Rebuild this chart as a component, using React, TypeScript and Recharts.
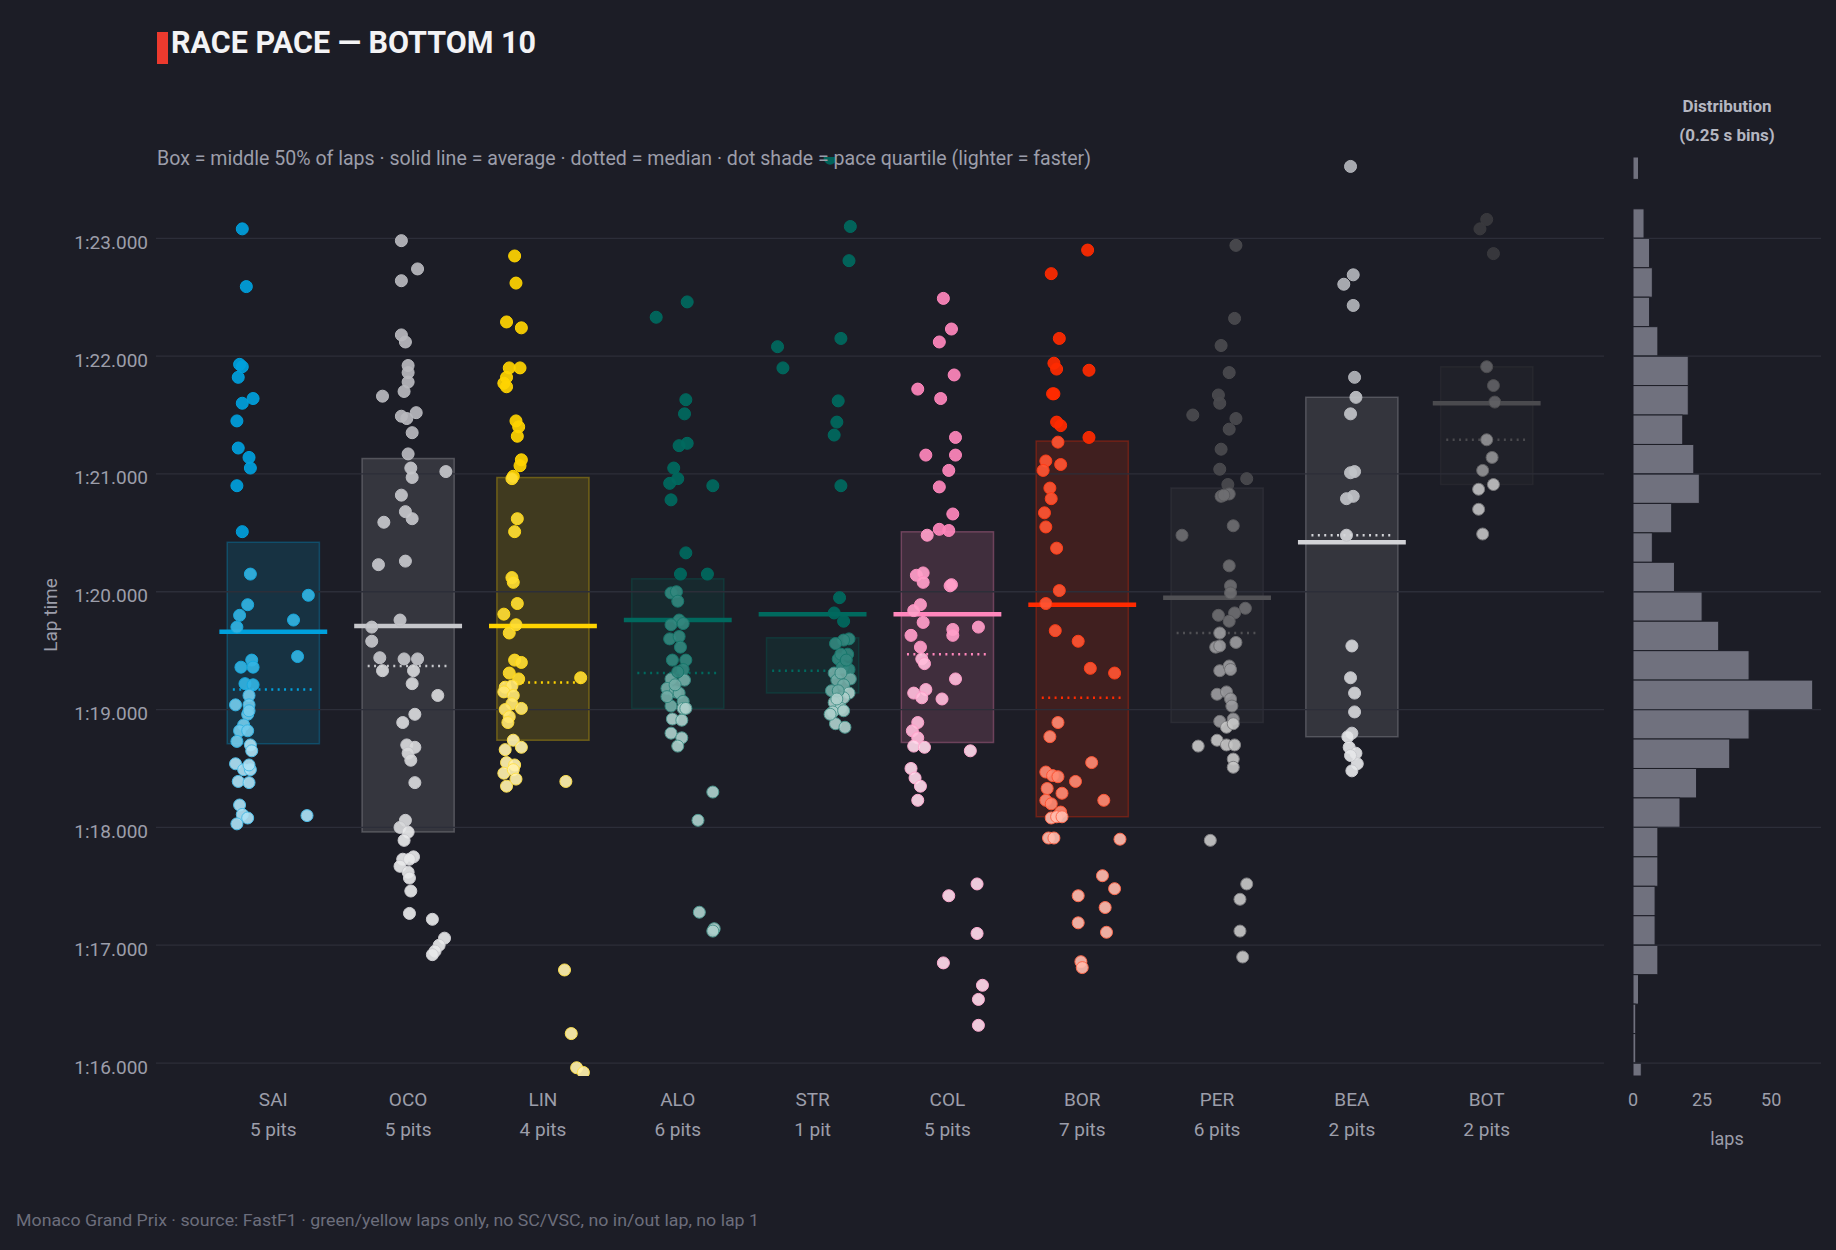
import { ComposedChart, Scatter, XAxis, YAxis, ReferenceArea, ReferenceLine } from "recharts";

const DRIVERS = ["SAI", "OCO", "LIN", "ALO", "STR", "COL", "BOR", "PER", "BEA", "BOT"];
const PITS = ["5 pits", "5 pits", "4 pits", "6 pits", "1 pit", "5 pits", "7 pits", "6 pits", "2 pits", "2 pits"];
const Y_TICKS = [76, 77, 78, 79, 80, 81, 82, 83];
const Y_DOMAIN: [number, number] = [75.89, 83.69];

// lap times in seconds (jitter = horizontal spread inside the column)
const SAI_LAPS = [83.08, 82.59, 81.93, 81.91, 81.82, 81.6, 81.64, 81.45, 81.22, 81.14, 81.05, 80.9, 80.51, 80.15, 79.89, 79.97, 79.8, 79.7, 79.76, 79.45, 79.42, 79.36, 79.36, 79.22, 79.21, 79.12, 79.04, 79.04, 78.96, 78.99, 78.87, 78.82, 78.82, 78.73, 78.7, 78.65, 78.54, 78.49, 78.49, 78.53, 78.39, 78.38, 78.19, 78.11, 78.08, 78.03, 78.1];
const SAI_JITTER = [-0.23, -0.2, -0.25, -0.23, -0.26, -0.23, -0.15, -0.27, -0.26, -0.18, -0.17, -0.27, -0.23, -0.17, -0.19, 0.26, -0.25, -0.27, 0.15, 0.18, -0.16, -0.24, -0.15, -0.21, -0.15, -0.18, -0.18, -0.28, -0.19, -0.18, -0.22, -0.25, -0.19, -0.27, -0.17, -0.16, -0.28, -0.22, -0.17, -0.18, -0.26, -0.18, -0.25, -0.23, -0.19, -0.27, 0.25];

const OCO_LAPS = [82.98, 82.74, 82.64, 82.18, 82.12, 81.92, 81.86, 81.78, 81.7, 81.66, 81.49, 81.47, 81.52, 81.35, 81.17, 81.05, 80.97, 81.02, 80.82, 80.68, 80.62, 80.59, 80.23, 80.26, 79.76, 79.7, 79.58, 79.44, 79.33, 79.43, 79.43, 79.33, 79.22, 79.12, 78.96, 78.89, 78.7, 78.68, 78.63, 78.57, 78.38, 78.06, 78.0, 77.96, 77.89, 77.73, 77.75, 77.73, 77.67, 77.62, 77.57, 77.46, 77.27, 77.22, 77.06, 77.0, 76.95, 76.92];
const OCO_JITTER = [-0.05, 0.07, -0.05, -0.05, -0.02, 0, 0, 0, -0.03, -0.19, -0.05, -0.01, 0.06, 0.03, 0, 0.02, 0.03, 0.28, -0.05, -0.02, 0.03, -0.18, -0.22, -0.02, -0.06, -0.27, -0.27, -0.21, -0.19, -0.03, 0.07, 0.04, 0.03, 0.22, 0.05, -0.04, -0.01, 0.05, 0, 0.02, 0.05, -0.02, -0.06, 0, -0.03, -0.04, 0.04, 0.01, -0.06, 0, 0.01, 0.02, 0.01, 0.18, 0.27, 0.23, 0.2, 0.18];

const LIN_LAPS = [82.85, 82.62, 82.29, 82.24, 81.9, 81.9, 81.82, 81.77, 81.74, 81.45, 81.4, 81.32, 81.12, 81.07, 80.98, 80.96, 80.62, 80.51, 80.12, 80.08, 79.9, 79.81, 79.72, 79.65, 79.42, 79.4, 79.27, 79.31, 79.26, 79.19, 79.2, 79.15, 79.12, 79.05, 79.0, 79.01, 78.94, 78.89, 78.74, 78.68, 78.66, 78.55, 78.53, 78.46, 78.49, 78.41, 78.35, 78.39, 76.79, 76.25, 75.96, 75.92];
const LIN_JITTER = [-0.21, -0.2, -0.27, -0.16, -0.25, -0.17, -0.27, -0.29, -0.27, -0.2, -0.18, -0.19, -0.16, -0.17, -0.22, -0.23, -0.19, -0.21, -0.23, -0.22, -0.19, -0.29, -0.2, -0.25, -0.21, -0.16, 0.28, -0.25, -0.18, -0.28, -0.23, -0.29, -0.22, -0.23, -0.28, -0.16, -0.25, -0.26, -0.22, -0.16, -0.28, -0.27, -0.21, -0.29, -0.22, -0.2, -0.27, 0.17, 0.16, 0.21, 0.25, 0.3];

const ALO_LAPS = [82.46, 82.33, 81.63, 81.51, 81.24, 81.26, 81.05, 80.96, 80.92, 80.9, 80.78, 80.33, 80.15, 80.15, 79.99, 80.0, 79.92, 79.76, 79.72, 79.73, 79.6, 79.62, 79.53, 79.42, 79.42, 79.34, 79.26, 79.25, 79.18, 79.15, 79.14, 79.07, 79.03, 79.01, 79.01, 78.92, 78.91, 78.8, 78.76, 78.69, 78.3, 78.06, 77.28, 77.14, 77.12, 79.21, 79.32, 79.11];
const ALO_JITTER = [0.07, -0.16, 0.06, 0.05, 0.01, 0.07, -0.03, 0, -0.06, 0.26, -0.05, 0.06, 0.02, 0.22, -0.05, -0.01, 0, 0.01, -0.05, 0.04, -0.06, 0.01, 0.02, -0.04, 0.06, 0.04, -0.05, 0.05, -0.08, -0.02, 0.01, 0.04, -0.05, 0.04, 0.06, -0.04, 0.03, -0.05, 0.03, 0, 0.26, 0.15, 0.16, 0.27, 0.26, -0.02, 0, -0.08];

const STR_LAPS = [83.68, 83.1, 82.81, 82.08, 81.9, 82.15, 81.62, 81.44, 81.33, 80.9, 79.95, 79.82, 79.75, 79.6, 79.59, 79.56, 79.47, 79.43, 79.36, 79.34, 79.31, 79.25, 79.26, 79.21, 79.16, 79.14, 79.1, 79.06, 79.01, 78.98, 78.88, 78.85, 79.16, 79.31, 79.47, 79.42, 79.09, 78.96, 78.99];
const STR_JITTER = [0.13, 0.28, 0.27, -0.26, -0.22, 0.21, 0.19, 0.18, 0.16, 0.21, 0.2, 0.16, 0.23, 0.27, 0.23, 0.17, 0.26, 0.19, 0.22, 0.27, 0.16, 0.18, 0.28, 0.23, 0.14, 0.27, 0.23, 0.16, 0.21, 0.15, 0.17, 0.24, 0.19, 0.21, 0.21, 0.25, 0.18, 0.13, 0.23];

const COL_LAPS = [82.49, 82.23, 82.12, 81.84, 81.72, 81.64, 81.31, 81.16, 81.16, 81.03, 80.89, 80.66, 80.53, 80.52, 80.48, 80.14, 80.16, 80.08, 80.05, 80.06, 79.89, 79.84, 79.74, 79.7, 79.68, 79.63, 79.63, 79.53, 79.43, 79.39, 79.26, 79.14, 79.17, 79.1, 79.09, 78.89, 78.82, 78.76, 78.69, 78.68, 78.65, 78.5, 78.42, 78.35, 78.23, 77.52, 77.42, 77.1, 76.85, 76.66, 76.54, 76.32];
const COL_JITTER = [-0.03, 0.03, -0.06, 0.05, -0.22, -0.05, 0.06, -0.16, 0.06, 0.01, -0.06, 0.04, -0.06, 0.01, -0.15, -0.23, -0.18, -0.18, 0.02, 0.03, -0.2, -0.25, -0.18, 0.23, 0.04, 0.04, -0.27, -0.2, -0.19, -0.17, 0.06, -0.25, -0.16, -0.19, -0.04, -0.22, -0.26, -0.22, -0.25, -0.17, 0.17, -0.27, -0.24, -0.2, -0.22, 0.22, 0.01, 0.22, -0.03, 0.26, 0.23, 0.23];

const BOR_LAPS = [82.9, 82.7, 82.15, 81.94, 81.89, 81.88, 81.68, 81.68, 81.44, 81.41, 81.31, 81.27, 81.11, 81.08, 81.03, 80.88, 80.79, 80.67, 80.55, 80.37, 80.01, 79.9, 79.67, 79.58, 79.35, 79.31, 78.89, 78.77, 78.55, 78.47, 78.44, 78.43, 78.39, 78.33, 78.29, 78.23, 78.2, 78.23, 78.13, 78.08, 78.09, 78.09, 77.91, 77.91, 77.9, 77.59, 77.42, 77.48, 77.32, 77.19, 77.11, 76.86, 76.81];
const BOR_JITTER = [0.04, -0.23, -0.17, -0.21, -0.19, 0.05, -0.22, -0.21, -0.19, -0.16, 0.05, -0.18, -0.27, -0.16, -0.29, -0.24, -0.23, -0.28, -0.27, -0.19, -0.17, -0.27, -0.2, -0.03, 0.06, 0.24, -0.18, -0.24, 0.07, -0.27, -0.22, -0.18, -0.05, -0.26, -0.15, -0.27, -0.23, 0.16, -0.16, -0.23, -0.19, -0.15, -0.25, -0.21, 0.28, 0.15, -0.03, 0.24, 0.17, -0.03, 0.18, -0.01, 0];

const PER_LAPS = [82.94, 82.32, 82.09, 81.86, 81.67, 81.6, 81.5, 81.47, 81.38, 81.21, 81.04, 80.96, 80.91, 80.81, 80.83, 80.82, 80.48, 80.56, 80.22, 80.05, 79.99, 79.86, 79.82, 79.8, 79.75, 79.65, 79.57, 79.53, 79.54, 79.33, 79.37, 79.34, 79.13, 79.15, 79.09, 79.03, 78.9, 78.92, 78.85, 78.88, 78.74, 78.7, 78.7, 78.69, 78.58, 78.51, 77.89, 77.52, 77.39, 77.12, 76.9];
const PER_JITTER = [0.14, 0.13, 0.03, 0.09, 0.01, 0.02, -0.18, 0.14, 0.09, 0.03, 0.02, 0.22, 0.08, 0.03, 0.09, 0.05, -0.26, 0.12, 0.09, 0.1, 0.1, 0.21, 0.13, 0.01, 0.09, 0.02, 0.14, -0.01, 0.02, 0.02, 0.09, 0.1, 0, 0.07, 0.1, 0.11, 0.02, 0.12, 0.07, 0.12, 0, 0.07, 0.13, -0.14, 0.12, 0.12, -0.05, 0.22, 0.17, 0.17, 0.19];

const BEA_LAPS = [83.61, 82.69, 82.61, 82.43, 81.82, 81.65, 81.51, 81.01, 81.02, 80.79, 80.81, 80.48, 79.54, 79.27, 79.14, 78.98, 78.8, 78.77, 78.68, 78.63, 78.54, 78.48, 78.61];
const BEA_JITTER = [-0.01, 0.01, -0.06, 0.01, 0.02, 0.03, -0.01, -0.01, 0.02, -0.04, 0.01, -0.04, 0, -0.01, 0.02, 0.02, 0, -0.03, -0.02, 0.03, 0.04, 0, -0.01];

const BOT_LAPS = [83.16, 83.08, 82.87, 81.91, 81.75, 81.61, 81.29, 81.14, 81.03, 80.91, 80.87, 80.7, 80.49];
const BOT_JITTER = [0, -0.05, 0.05, 0, 0.05, 0.06, 0, 0.04, -0.03, 0.05, -0.06, -0.06, -0.03];

const LAPS = [SAI_LAPS, OCO_LAPS, LIN_LAPS, ALO_LAPS, STR_LAPS, COL_LAPS, BOR_LAPS, PER_LAPS, BEA_LAPS, BOT_LAPS];
const JITTER = [SAI_JITTER, OCO_JITTER, LIN_JITTER, ALO_JITTER, STR_JITTER, COL_JITTER, BOR_JITTER, PER_JITTER, BEA_JITTER, BOT_JITTER];

// box = Q1..Q3, solid = mean, dotted = median
const Q1 = [78.71, 77.96, 78.74, 79.01, 79.14, 78.72, 78.09, 78.89, 78.77, 80.91];
const Q3 = [80.42, 81.13, 80.97, 80.11, 79.61, 80.51, 81.28, 80.88, 81.65, 81.91];
const MEAN = [79.66, 79.71, 79.71, 79.76, 79.81, 79.81, 79.89, 79.95, 80.42, 81.6];
const MEDIAN = [79.17, 79.37, 79.23, 79.31, 79.33, 79.47, 79.1, 79.65, 80.48, 81.29];

// histogram, 0.25 s bins (lower edge) and lap counts
const HIST_BIN_LOW = [83.5, 83.25, 83.0, 82.75, 82.5, 82.25, 82.0, 81.75, 81.5, 81.25, 81.0, 80.75, 80.5, 80.25, 80.0, 79.75, 79.5, 79.25, 79.0, 78.75, 78.5, 78.25, 78.0, 77.75, 77.5, 77.25, 77.0, 76.75, 76.5, 76.25, 76.0, 75.75];
const HIST_COUNT = [2, 0, 4, 6, 7, 6, 9, 20, 20, 18, 22, 24, 14, 7, 15, 25, 31, 42, 65, 42, 35, 23, 17, 9, 9, 8, 8, 9, 2, 1, 1, 3];
const HIST_TICKS = [0, 25, 50];

const TEAM = ["#00a0dc", "#b8b9be", "#ffd400", "#00695e", "#00695e", "#ff87bc", "#ff2a00", "#4a4a4e", "#b2b4ba", "#3a3a3e"];
const MEAN_COLOR = ["#00a0dc", "#c6c7cb", "#ffd400", "#00695e", "#00695e", "#ff87bc", "#ff2a00", "#505054", "#d2d3d7", "#4a4a4e"];

const BG = "#1c1d26";
const GRID = "#2c2e39";
const TEXT = "#9c9eaa";
const FONT = 'Roboto, "Noto Sans", sans-serif';

const mix = (hex: string, t: number) => {
  const n = parseInt(hex.slice(1), 16);
  const f = (c: number) => Math.round(c + (255 - c) * t);
  return `rgb(${f((n >> 16) & 255)},${f((n >> 8) & 255)},${f(n & 255)})`;
};

const fmtLap = (v: number) => `${Math.floor(v / 60)}:${String(Math.round(v % 60)).padStart(2, "0")}.000`;

// lighter = faster quartile
const shade = (v: number, i: number) =>
  v <= Q1[i] ? 0.68 : v <= MEDIAN[i] ? 0.45 : v <= Q3[i] ? 0.2 : 0;

const points = LAPS.map((laps, i) =>
  laps.map((v, k) => {
    const t = shade(v, i);
    return { x: i + (JITTER[i][k] ?? 0), y: v, fill: mix(TEAM[i], t), stroke: mix(TEAM[i], t * 0.45) };
  })
);

const histData = HIST_BIN_LOW.map((lo, k) => ({ x: HIST_COUNT[k], y: lo + 0.125 }));

const renderDot = (p: any) => (
  <circle cx={p.cx} cy={p.cy} r={6} fill={p.payload.fill} fillOpacity={0.92} stroke={p.payload.stroke} strokeWidth={1} />
);

const DriverTick = (props: any) => {
  const { x, y, payload } = props;
  const i = payload.value;
  return (
    <g>
      <text x={x} y={y + 23} textAnchor="middle" dominantBaseline="central" fill={TEXT} fontSize={19} fontFamily={FONT}>
        {DRIVERS[i]}
      </text>
      <text x={x} y={y + 53} textAnchor="middle" dominantBaseline="central" fill={TEXT} fontSize={19} fontFamily={FONT}>
        {PITS[i]}
      </text>
    </g>
  );
};

const LapTick = (props: any) => {
  const { x, y, payload } = props;
  return (
    <text x={x} y={y + 4} textAnchor="end" dominantBaseline="central" fill={TEXT} fontSize={19} fontFamily={FONT}>
      {fmtLap(payload.value)}
    </text>
  );
};

const HistTick = (props: any) => {
  const { x, y, payload } = props;
  return (
    <text x={x} y={y + 23} textAnchor="middle" dominantBaseline="central" fill={TEXT} fontSize={18} fontFamily={FONT}>
      {payload.value}
    </text>
  );
};

export default function App() {
  return (
    <div style={{ position: "absolute", left: 0, top: 0, width: 1836, height: 1250, background: BG, overflow: "hidden" }}>
      <div style={{ position: "absolute", left: 0, top: 0 }}>
        <ComposedChart width={1604} height={1250} margin={{ top: 157, right: 0, bottom: 0, left: 0 }}>
          <XAxis
            type="number"
            dataKey="x"
            domain={[-0.87, 9.87]}
            ticks={[0, 1, 2, 3, 4, 5, 6, 7, 8, 9]}
            interval={0}
            allowDataOverflow
            axisLine={false}
            tickLine={false}
            tickSize={0}
            tickMargin={0}
            height={174}
            tick={<DriverTick />}
          />
          <YAxis
            type="number"
            dataKey="y"
            domain={Y_DOMAIN}
            ticks={Y_TICKS}
            interval={0}
            allowDataOverflow
            width={156}
            axisLine={false}
            tickLine={false}
            tickSize={0}
            tickMargin={8}
            tick={<LapTick />}
          />
          {Y_TICKS.map((t) => (
            <ReferenceLine key={`grid-${t}`} y={t} stroke={GRID} strokeWidth={1.3} />
          ))}
          {DRIVERS.map((d, i) => (
            <ReferenceArea
              key={`box-${d}`}
              x1={i - 0.342}
              x2={i + 0.342}
              y1={Q1[i]}
              y2={Q3[i]}
              fill={TEAM[i]}
              fillOpacity={0.16}
              stroke={TEAM[i]}
              strokeOpacity={0.3}
              strokeWidth={1.5}
            />
          ))}
          {DRIVERS.map((d, i) => (
            <Scatter key={`pts-${d}`} data={points[i]} shape={renderDot} isAnimationActive={false} />
          ))}
          {DRIVERS.map((d, i) => (
            <ReferenceLine
              key={`mean-${d}`}
              segment={[{ x: i - 0.4, y: MEAN[i] }, { x: i + 0.4, y: MEAN[i] }]}
              stroke={MEAN_COLOR[i]}
              strokeWidth={4.5}
            />
          ))}
          {DRIVERS.map((d, i) => (
            <ReferenceLine
              key={`med-${d}`}
              segment={[{ x: i - 0.3, y: MEDIAN[i] }, { x: i + 0.3, y: MEDIAN[i] }]}
              stroke={MEAN_COLOR[i]}
              strokeWidth={2.5}
              strokeDasharray="2 4.4"
            />
          ))}
        </ComposedChart>
      </div>

      <div style={{ position: "absolute", left: 1604, top: 0 }}>
        <ComposedChart width={232} height={1250} margin={{ top: 157, right: 15, bottom: 0, left: 29 }}>
          <XAxis
            type="number"
            dataKey="x"
            domain={[0, 68]}
            ticks={HIST_TICKS}
            interval={0}
            allowDataOverflow
            axisLine={false}
            tickLine={false}
            tickSize={0}
            tickMargin={0}
            height={174}
            tick={<HistTick />}
          />
          <YAxis type="number" dataKey="y" domain={Y_DOMAIN} ticks={Y_TICKS} interval={0} allowDataOverflow hide />
          {Y_TICKS.map((t) => (
            <ReferenceLine key={`hgrid-${t}`} y={t} stroke={GRID} strokeWidth={1.3} />
          ))}
          <Scatter data={histData} shape={() => <g />} isAnimationActive={false} />
          {HIST_BIN_LOW.map((lo, k) =>
            HIST_COUNT[k] > 0 ? (
              <ReferenceArea
                key={`bin-${lo}`}
                x1={0}
                x2={HIST_COUNT[k]}
                y1={Math.max(lo, Y_DOMAIN[0])}
                y2={Math.min(lo + 0.25, Y_DOMAIN[1])}
                fill="#70717e"
                fillOpacity={1}
                stroke={BG}
                strokeWidth={1}
              />
            ) : null
          )}
        </ComposedChart>
      </div>

      <svg width={1836} height={1250} style={{ position: "absolute", left: 0, top: 0, pointerEvents: "none" }} fontFamily={FONT}>
        <rect x={157} y={32} width={11} height={32} fill="#ec3a2e" />
        <text x={171} y={52.5} fontSize={32} fontWeight={700} fill="#f3f3f5" textLength={365} lengthAdjust="spacingAndGlyphs">
          RACE PACE — BOTTOM 10
        </text>
        <text x={157} y={165} fontSize={20} fill={TEXT} textLength={934} lengthAdjust="spacingAndGlyphs">
          Box = middle 50% of laps · solid line = average · dotted = median · dot shade = pace quartile (lighter = faster)
        </text>
        <text transform="translate(50,615) rotate(-90)" textAnchor="middle" dominantBaseline="central" fontSize={19} fill={TEXT}>
          Lap time
        </text>
        <text x={1727} y={106} textAnchor="middle" dominantBaseline="central" fontSize={17} fontWeight={700} fill="#b4b6c0">
          Distribution
        </text>
        <text x={1727} y={135} textAnchor="middle" dominantBaseline="central" fontSize={17} fontWeight={700} fill="#b4b6c0">
          (0.25 s bins)
        </text>
        <text x={1727} y={1138} textAnchor="middle" dominantBaseline="central" fontSize={18} fill={TEXT}>
          laps
        </text>
        <text x={16} y={1220} dominantBaseline="central" fontSize={17} fill="#6c6e7c" textLength={743} lengthAdjust="spacingAndGlyphs">
          Monaco Grand Prix  ·  source: FastF1  ·  green/yellow laps only, no SC/VSC, no in/out lap, no lap 1
        </text>
      </svg>
    </div>
  );
}
